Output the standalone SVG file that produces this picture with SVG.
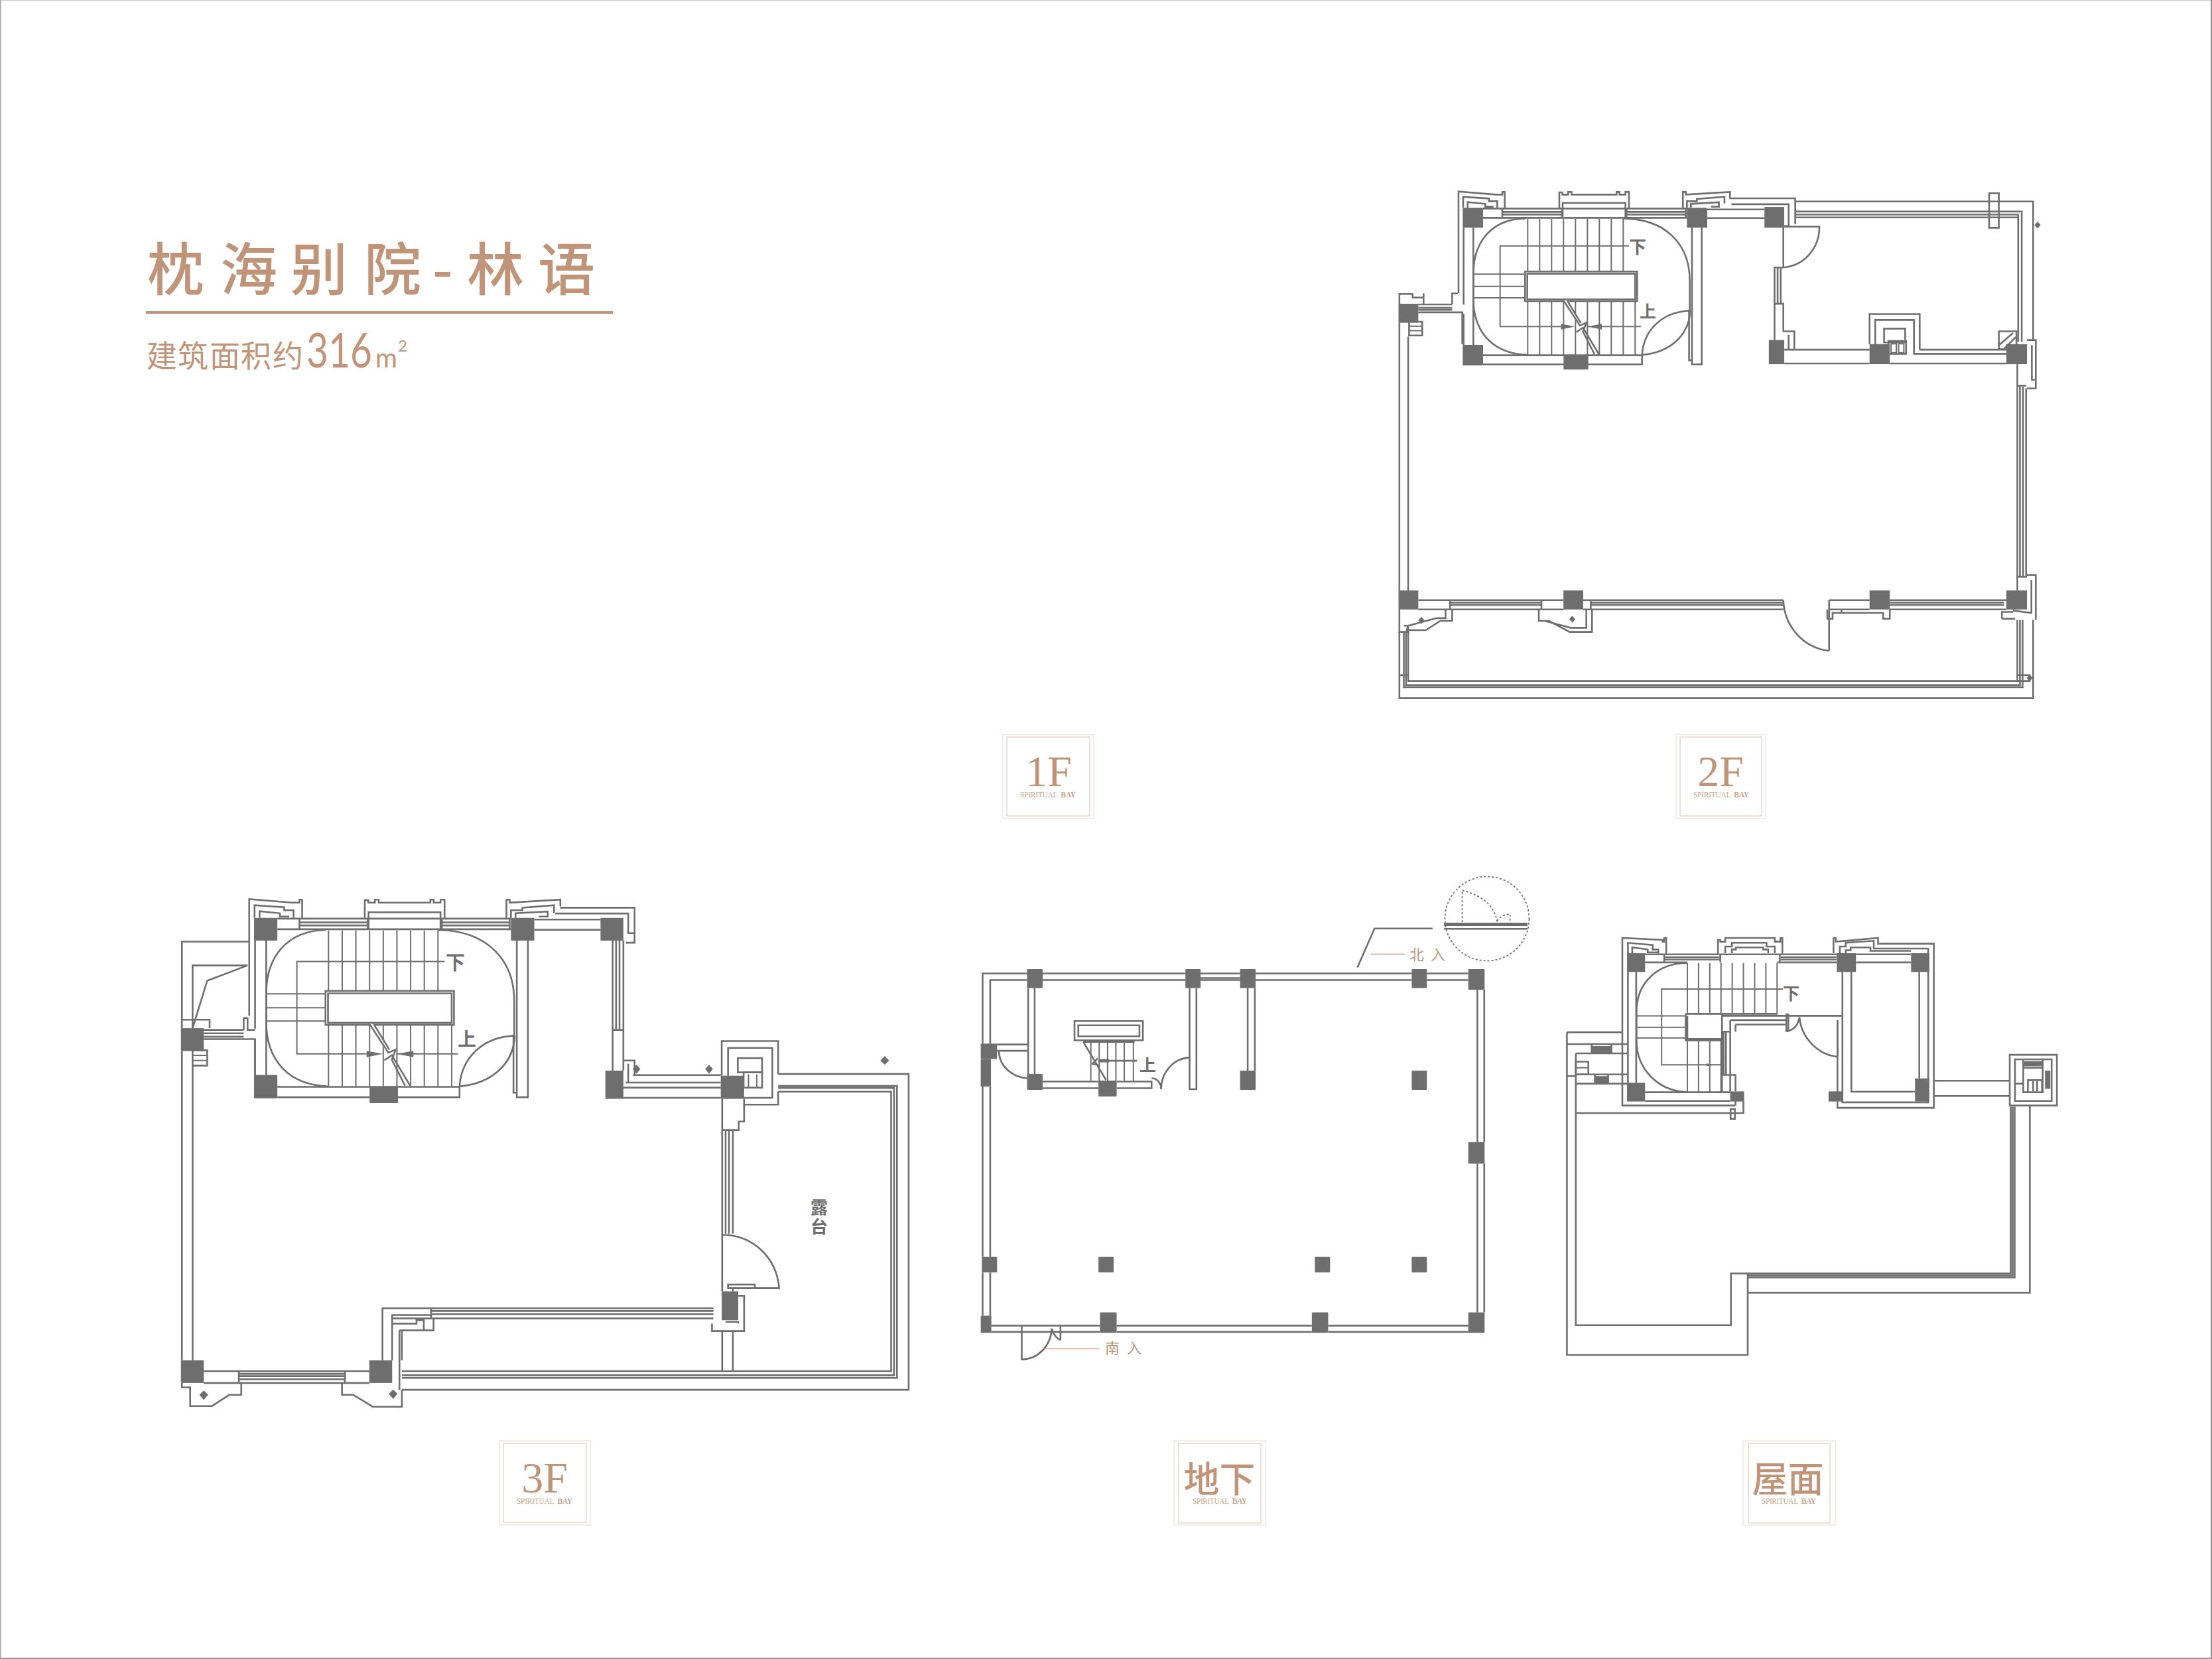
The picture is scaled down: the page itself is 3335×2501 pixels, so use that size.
<svg xmlns="http://www.w3.org/2000/svg" width="3335" height="2501" viewBox="0 0 3335 2501">
<style>
.l{fill:none;stroke:#6e6e6e;stroke-width:2.6;vector-effect:non-scaling-stroke}
.t{fill:none;stroke:#6e6e6e;stroke-width:2;vector-effect:non-scaling-stroke}
.c{fill:#6e6e6e;stroke:none}
.d{fill:none;stroke:#6e6e6e;stroke-width:1.8;stroke-dasharray:3 3;vector-effect:non-scaling-stroke}
.tan{fill:#c09478;font-family:"Noto Sans CJK SC","Liberation Sans",sans-serif}
.lead{fill:none;stroke:#d8bba8;stroke-width:2;vector-effect:non-scaling-stroke}
.s{fill:#6e6e6e;font-family:"Noto Sans CJK SC",sans-serif;font-weight:700}
.tagO{fill:none;stroke:#f0e6df;stroke-width:1.5}
.tagI{fill:none;stroke:#e8d6ca;stroke-width:1.5}
.tagT{fill:#c09478;font-family:"Liberation Serif","Noto Sans CJK SC",serif;font-size:66px;text-anchor:middle}
.tagC{fill:#c09478;font-family:"Noto Sans CJK SC",serif;font-weight:500;font-size:54px;text-anchor:middle}
.tagS{fill:#c9a48c;font-family:"Liberation Serif",serif;font-size:11.5px}
</style>
<defs>
<g id="core">
<g class="c"><rect x="16" y="100" width="92" height="90" rx="3"/><rect x="1030" y="100" width="92" height="90" rx="3"/><rect x="16" y="720" width="92" height="92" rx="3"/><rect x="472" y="765" width="112" height="66" rx="3"/></g>
<path class="l" d="M108 103H1030M108 145H1030M195 118H465M195 130H465M757 118H1025M757 130H1025M195 103V145M465 103V145M757 103V145M1025 103V145M468 145V78H752V145"/>
<path class="l" d="M453 100V30H467V40H493V28H508V40H712V28H725V40H752V28H768V100"/>
<path class="l" d="M-3 100V26L165 40H195V28H206V100M18 100V50L135 58V70H172V100M38 100V74L118 82V95H155"/>
<path class="l" d="M1012 100V28H1025V40L1225 28V55M1030 100V70H1075V60L1200 50V80M1048 100V82L1175 75V95H1140"/>
<path class="l" d="M-3 100V486M20 190V537M20 578V720M64 190V720M108 767H827V808H108M1053 190V808H1097V190M1040 560V790H1053"/>
<path class="t" d="M310 150V388M364 150V388M418 150V388M472 150V388M526 150V388M580 150V388M634 150V388M688 150V388M742 150V388M310 522V765M364 522V765M418 522V765M472 522V765M526 522V765M580 522V765M634 522V765M688 522V765M742 522V765M796 522V765"/>
<path class="t" d="M64 400H298M64 455H298M64 507H298M768 272H185V637H460M580 637H822"/>
<path class="l" d="M300 148C150 150 64 250 64 400V510C64 660 150 760 310 765M742 148C930 150 1043 260 1043 430V565M1045 565C920 570 835 650 827 765C950 755 1040 680 1045 565"/>
<path d="M298 388H805V522H298Z" fill="#fff" stroke="#6e6e6e" stroke-width="2.6" vector-effect="non-scaling-stroke"/>
<path class="l" d="M308 398H796V514H308Z"/>
<path d="M470 514L545 640L530 662L573 640L575 620L548 628L490 522Z" fill="#fff" stroke="none"/>
<path class="l" d="M470 516L546 632L575 620L560 660L612 762M490 522L550 620M530 662L560 642L632 762"/>
<path class="c" d="M460 625V650L525 637ZM645 625V650L580 637Z"/>
</g>
</defs>
<rect width="3335" height="2501" fill="#fff"/>
<rect x="0" y="0" width="3335" height="1.5" fill="#d0d0d0"/>
<rect x="0" y="0" width="1.5" height="2501" fill="#a8a8a8"/>
<rect x="3333" y="0" width="2" height="2501" fill="#8c8c8c"/>
<rect x="0" y="2499" width="3335" height="2" fill="#9a9a9a"/>

<g id="title">
<text class="tan" font-size="86" font-weight="500" x="222 332 438 549 652 704 811" y="438">枕海别院-林语</text>
<rect x="220" y="469" width="704" height="4" fill="#c09478"/>
<text class="tan" font-size="46" font-weight="400" x="221 268 316 363 411" y="553">建筑面积约</text>
<text fill="#c09478" font-family="Lato,'Liberation Sans',sans-serif" font-weight="400" font-size="72" x="462" y="554" textLength="99" lengthAdjust="spacingAndGlyphs">316</text>
<text fill="#c09478" font-family="Lato,'Liberation Sans',sans-serif" font-size="40" x="566" y="554">m</text>
<text fill="#c09478" font-family="Lato,'Liberation Sans',sans-serif" font-size="24" x="600" y="530">2</text>
</g>

<g id="plan-2f">
<use href="#core" transform="translate(2200 280) scale(.3333)"/>
<text class="s" font-size="26" x="2456" y="382">下</text>
<text class="s" font-size="25" x="2472" y="479">上</text>
<g transform="translate(2080 260) scale(.6631 .5208)">
<g class="c"><rect x="875" y="100" width="45" height="60"/><rect x="885" y="485" width="35" height="70"/><rect x="1114" y="497" width="46" height="58"/><rect x="1425" y="497" width="47" height="58"/><rect x="43" y="380" width="45" height="55"/><rect x="43" y="1210" width="45" height="55"/><rect x="418" y="1210" width="45" height="55"/><rect x="1114" y="1210" width="46" height="55"/><rect x="1425" y="1210" width="47" height="55"/>
<path d="M1496 142L1503 152L1496 162L1489 152ZM1478 1453L1485 1463L1478 1473L1471 1463ZM95 1286L102 1296L95 1306L88 1296ZM438 1283L445 1293L438 1303L431 1293Z"/></g>
<path class="l" d="M745 107H875M745 132H875M795 75H945V150M800 92H930V155H918"/>
<path class="l" d="M945 84H1486V485M945 113H1460V490M945 122H1452V490M945 130H1452"/>
<rect class="l" x="1386" y="60" width="22" height="100"/>
<path class="l" d="M918 160V275H898V485M905 275V380M912 275V380M898 380H918V460H943V513M930 470V513M918 157H1000C1000 220 965 270 918 275"/>
<path class="l" d="M920 513H1114M920 553H1114M1160 553H1425M1228 513H1425M1114 497V410H1228V513M1127 497V427H1215V525H1425"/>
<rect class="l" x="1147" y="452" width="48" height="40"/>
<rect class="l" x="1157" y="488" width="40" height="37"/><rect class="t" x="1163" y="496" width="12" height="26"/><rect class="t" x="1180" y="496" width="12" height="26"/>
<path class="l" d="M1408 460H1448V512H1408ZM1408 500L1440 465M1420 510L1448 475"/>
<path class="l" d="M1472 485H1492V625H1472M1450 555V1170H1470V625M1456 620V1170M1463 620V1170M1450 617H1470M1483 500V600H1492"/>
<path class="l" d="M1470 1165H1492V1295M1450 1210V1170M1482 1180V1275L1440 1268M1415 1292V1272H1440M1415 1292H1445"/>
<path class="l" d="M45 380V352H75V362H100V380M100 350V380M88 382H165M88 392H165M88 398H165M88 405H188V497M165 380V350H178M45 435V1210M65 475V1210"/>
<rect class="l" x="67" y="432" width="30" height="40"/><path class="t" d="M67 445H97M67 458H97"/>
<path class="l" d="M88 1238H418M88 1265H418M160 1238V1265M368 1238V1265M160 1245H368M160 1252H368M463 1238H918M463 1265H918M480 1238V1265M480 1245H918M480 1252H918M1022 1238H1114M1022 1265H1114M1160 1238H1425M1160 1265H1425M1160 1245H1420M1160 1252H1420M1022 1238V1385"/>
<path class="l" d="M918 1238C920 1310 960 1375 1022 1385"/>
<path class="l" d="M45 1265V1330H65V1310L62 1325H105L138 1298H165V1265M55 1312H65L130 1290H150V1265"/>
<path class="l" d="M362 1265V1298H385L432 1330H483V1265M375 1298L435 1318H470V1265"/>
<path class="l" d="M1018 1265V1292H1030V1275H1145V1292H1160V1265M1050 1265V1275"/>
<path class="l" d="M65 1330V1472H1450V1295M60 1330V1484H1456V1295M55 1330V1490H1462V1295M45 1330V1522H1486V1295M1450 1455H1480M1450 1472H1480M45 1455H65"/>
</g>
</g>

<g id="plan-3f">
<use href="#core" transform="translate(376.9 1345.5) scale(.382)"/>
<text class="s" font-size="29" x="672" y="1462">下</text>
<text class="s" font-size="28" x="690" y="1577">上</text>
<g transform="translate(250 1330) scale(.7339 .5118)">
<g class="c"><rect x="893" y="105" width="47" height="67"/><rect x="903" y="555" width="37" height="83"/><rect x="1140" y="570" width="48" height="68"/><rect x="31" y="430" width="47" height="67"/><rect x="31" y="1408" width="47" height="67"/><rect x="418" y="1408" width="47" height="67"/><rect x="1142" y="1205" width="34" height="85"/>
<path d="M967 538L975 550L967 564L959 550ZM1116 538L1124 550L1116 564L1108 550ZM1477 512L1486 525L1477 538L1468 525ZM78 1497L87 1510L78 1525L69 1510ZM467 1494L476 1507L467 1522L458 1507Z"/></g>
<path class="l" d="M757 110H893M757 140H893M810 75H963V178H945M800 92H950V150H965"/>
<path class="l" d="M918 172V555M940 172V555M925 172V435M932 172V435M918 435H940M940 525H963V570M950 535V590"/>
<path class="l" d="M960 568H1140M945 590H1140M940 605H1140M940 635H1140"/>
<path class="l" d="M1142 570V468H1258V565M1155 570V488H1246V635H1188M1188 638V655H1258V617"/>
<rect class="l" x="1175" y="518" width="50" height="42"/><rect class="l" x="1187" y="560" width="38" height="45"/><path class="t" d="M1197 566V602M1214 566V602"/>
<path class="l" d="M1258 565H1526V1495H485M1258 600H1502V1460H485M1258 606H1496V1452H485M1258 617H1490V1440H485"/>
<path class="l" d="M1143 638V1205M1165 730V1035M1150 730V1035M1157 730V1035M1188 655V705H1177V730H1143M1143 1038C1210 1040 1255 1110 1260 1195H1155V1185H1210V1195M1165 1195V1205"/>
<path class="l" d="M1176 1218H1188V1322H1122V1300M1143 1322V1440M1165 1322V1440M1150 1295H1176V1300"/>
<path class="l" d="M445 1408V1255H1125M545 1263H1125M545 1272H1125M465 1285H1125M545 1255V1285M465 1408V1275H545M465 1300H515V1290H530V1320H550V1285M480 1320H530M480 1320V1495M485 1320V1408"/>
<path class="l" d="M170 175H33V430M168 245H55V430M168 245L85 290L55 430M33 497V1408M55 540V1408M33 405H90V430M78 435H160M78 445H160M78 455H160M78 462H183V570M160 435V400H168V435H183"/>
<rect class="l" x="55" y="495" width="30" height="45"/><path class="t" d="M55 510H85M55 525H85"/>
<path class="l" d="M78 1440H418M78 1475H418M150 1440V1475M368 1440V1475M150 1448H368M150 1455H368M150 1464H368"/>
<path class="l" d="M33 1475V1488H50V1543H95L130 1510H155V1475M362 1475V1510H385L425 1545H485V1495"/>
</g>
<text class="s" font-size="26" x="1222" y="1830">露</text>
<text class="s" font-size="26" x="1222" y="1859">台</text>
</g>

<g id="plan-b1">
<g transform="translate(1450 1299) scale(.5725 .4985)">
<g class="c"><rect x="172" y="325" width="41" height="57" rx="2"/><rect x="589" y="325" width="40" height="57" rx="2"/><rect x="733" y="325" width="41" height="57" rx="2"/><rect x="1185" y="325" width="40" height="57" rx="2"/><rect x="1334" y="325" width="43" height="62" rx="2"/><rect x="172" y="642" width="41" height="48" rx="2"/><rect x="360" y="662" width="48" height="48" rx="2"/><rect x="733" y="632" width="41" height="58" rx="2"/><rect x="1185" y="632" width="40" height="58" rx="2"/><rect x="1334" y="848" width="43" height="65" rx="2"/><rect x="53" y="1195" width="40" height="47" rx="2"/><rect x="360" y="1195" width="40" height="47" rx="2"/><rect x="930" y="1195" width="40" height="47" rx="2"/><rect x="1185" y="1195" width="40" height="47" rx="2"/><rect x="50" y="1373" width="28" height="52" rx="2"/><rect x="364" y="1363" width="44" height="62" rx="2"/><rect x="922" y="1363" width="43" height="62" rx="2"/><rect x="1334" y="1363" width="43" height="62" rx="2"/><rect x="50" y="550" width="43" height="47" rx="2"/><rect x="50" y="597" width="27" height="83" rx="2"/></g>
<path class="l" d="M55 550V338H172M75 550V358H172M213 338H589M213 358H589M629 338H733M629 358H733M629 352H733M774 338H1185M774 358H1185M1225 338H1334M1225 358H1334"/>
<path class="l" d="M1358 387V848M1376 387V848M1358 913V1363M1376 913V1363M55 680V1195M75 680V1195M55 1242V1373M75 1242V1373M78 1403H364M78 1422H364M408 1403H922M408 1422H922M965 1403H1334M965 1422H1334"/>
<path class="l" d="M175 382V642M192 382V642M213 665H360M213 685H360M408 665H500V685H408M600 382V688H618V382M753 382V632M772 382V632M93 553H175M93 572H175"/>
<path class="l" d="M98 572C98 620 135 652 172 655M525 688C525 640 555 595 600 592M500 655C515 655 525 670 525 688"/>
<path class="l" d="M297 482H477V540H297ZM307 495H468V528H307ZM320 545H455"/>
<path class="t" d="M340 545V662M362 545V662M384 545V662M406 545V662M428 545V662M452 545V662"/>
<path class="l" d="M320 545L380 660M360 602H462M343 612L358 595M343 612L360 615"/>
<path class="c" d="M362 597H388V607H362Z"/>
<path class="l" d="M1240 202H1087L1042 320M1270 187H1490M1270 192H1490M1270 203H1490"/>
<path class="d" d="M1318 195V87C1365 100 1405 130 1410 185M1444 190V158C1425 160 1412 170 1408 185"/>
<path class="l" d="M158 1405V1505C200 1505 235 1465 237 1412M237 1412C240 1425 250 1445 260 1445V1405"/>
<path class="lead" d="M1077 280H1167M218 1473H362"/>
</g>
<circle class="d" cx="2242" cy="1385" r="63.5"/>
<text class="s" font-size="25" x="1718" y="1615">上</text>
<text class="tan" font-size="22" x="2125 2157" y="1447">北入</text>
<text class="tan" font-size="22" x="1666 1699" y="2040">南入</text>
</g>

<g id="plan-roof">
<g transform="translate(2340 1390) scale(.4975 .435)">
<g class="c"><rect x="227" y="108" width="55" height="65"/><rect x="863" y="108" width="58" height="65"/><rect x="1088" y="108" width="55" height="65"/><rect x="227" y="557" width="55" height="65"/><rect x="540" y="587" width="42" height="35"/><rect x="838" y="587" width="43" height="35"/><rect x="1100" y="542" width="43" height="80"/><rect x="120" y="430" width="60" height="20"/><rect x="132" y="534" width="38" height="20"/><rect x="1430" y="482" width="55" height="18"/><rect x="1494" y="515" width="16" height="63"/></g>
<path class="l" d="M213 420V55L335 62V68H340V55H346V110M230 108V72L305 80V95H322V110M243 108V88L290 95V105H322"/>
<path class="l" d="M503 110V62H510V68H525V55H675V68H692V55H698V110M525 108V85H545V72H650V85H675V108M545 108V95H557V88H640V95H655V108"/>
<path class="l" d="M853 108V55H860V68L988 55V75H1157V644H865V340M872 108V85H890V72L975 65V92H1140V625H880V173M890 108V98H905V88H965V100H1088"/>
<path class="l" d="M282 112H863M282 140H410M682 140H863M340 122H510M340 130H510M693 122H862M693 130H862M340 112V140M510 112V140M690 112V140M921 112H1088M921 140H1088M907 173V588H1100M1113 173V542"/>
<path class="l" d="M230 173V557M255 173V557M282 590H540M282 620H540M213 420V636H555"/>
<path class="t" d="M410 142V320M444 142V320M478 142V320M512 142V320M546 142V320M580 142V320M614 142V320M648 142V320M682 142V320M410 410V590M444 410V590M478 410V590M512 410V590M256 325H405M256 365H405M256 402H405M700 232H332V495H510"/>
<path class="l" d="M410 142C320 142 256 210 256 310V410C256 510 320 585 410 590"/>
<path class="l" d="M405 318H682M405 318V410H515V320M410 325V405H515M515 325H880M540 340H710M540 340V380H515M556 355V380M556 355H710"/>
<rect class="l" x="710" y="320" width="6" height="58"/>
<path class="l" d="M712 378C730 375 745 360 750 330C755 400 805 460 865 467V340"/>
<path class="c" d="M468 490V500L490 495Z"/>
<path class="l" d="M515 380V590M520 380V530M527 380V530M540 380V587M515 530H556V587"/>
<path class="l" d="M73 662H580V620M556 620V636"/>
<rect class="l" x="541" y="648" width="13" height="34"/>
<path class="l" d="M45 382H213M45 382V1500H593V1218H542V1397H72V455M45 423H228M72 455H228M72 528H228M72 560H228M45 534H72M120 423V452H180V423M130 528V556H170V528M110 528H130"/>
<rect class="l" x="72" y="484" width="38" height="44"/><path class="t" d="M72 505H110"/>
<path class="l" d="M593 1218H1390V640M593 1225H1396V640M593 1232H1402V640M593 1285H1448V636M1157 550H1387M1157 603H1387"/>
<rect class="l" x="1387" y="460" width="143" height="176"/><rect class="l" x="1403" y="476" width="111" height="144"/>
<path class="l" d="M1428 478V590H1487V478M1428 505H1487M1403 560H1428M1442 590V548H1485V590M1458 552V586M1470 552V586"/>
</g>
<text class="s" font-size="25" x="2688" y="1507">下</text>
</g>

<g id="tag-1f"><rect class="tagO" x="1512" y="1107" width="137" height="127"/><rect class="tagI" x="1518" y="1111" width="125" height="119"/><text class="tagT" x="1581" y="1185">1F</text><text class="tagS" x="1538" y="1202" textLength="84">SPIRITUAL <tspan dx="3" font-weight="700">BAY</tspan></text></g>
<g id="tag-2f"><rect class="tagO" x="2527" y="1107" width="135" height="127"/><rect class="tagI" x="2533" y="1111" width="123" height="119"/><text class="tagT" x="2594" y="1185">2F</text><text class="tagS" x="2553" y="1202" textLength="84">SPIRITUAL <tspan dx="3" font-weight="700">BAY</tspan></text></g>
<g id="tag-3f"><rect class="tagO" x="753" y="2172" width="137" height="127"/><rect class="tagI" x="759" y="2176" width="125" height="119"/><text class="tagT" x="821" y="2250">3F</text><text class="tagS" x="779" y="2267" textLength="84">SPIRITUAL <tspan dx="3" font-weight="700">BAY</tspan></text></g>
<g id="tag-b1"><rect class="tagO" x="1770" y="2172" width="138" height="127"/><rect class="tagI" x="1777" y="2176" width="124" height="120"/><text class="tagC" x="1838.5" y="2250">地下</text><text class="tagS" x="1798" y="2267" textLength="82">SPIRITUAL <tspan dx="3" font-weight="700">BAY</tspan></text></g>
<g id="tag-roof"><rect class="tagO" x="2628" y="2172" width="139" height="127"/><rect class="tagI" x="2636" y="2176" width="123" height="120"/><text class="tagC" x="2695.5" y="2250">屋面</text><text class="tagS" x="2656" y="2267" textLength="82">SPIRITUAL <tspan dx="3" font-weight="700">BAY</tspan></text></g>
</svg>
